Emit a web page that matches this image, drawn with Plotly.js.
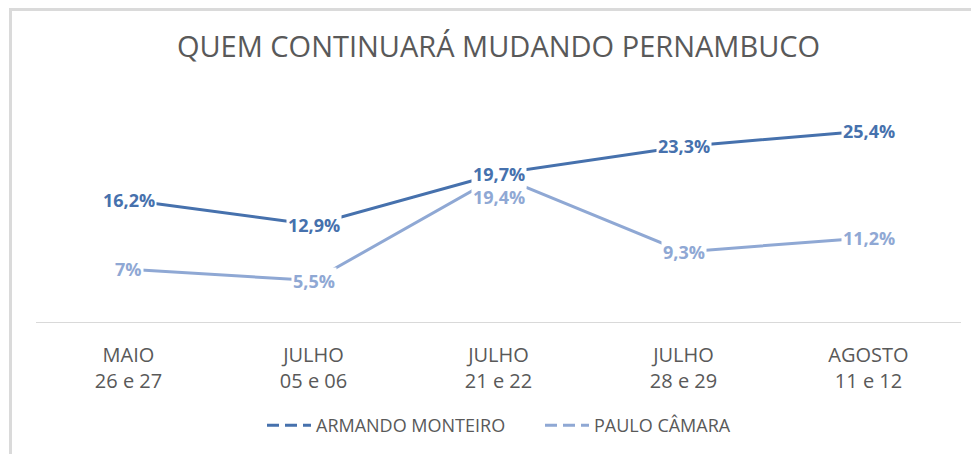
<!DOCTYPE html>
<html>
<head>
<meta charset="utf-8">
<script src="https://cdn.plot.ly/plotly-3.0.1.min.js"></script>
<style>
  html, body { margin: 0; padding: 0; background: #ffffff; }
  #wrap { position: relative; width: 971px; height: 454px; overflow: hidden; }
  #chart { position: absolute; left: 0; top: 0; width: 971px; height: 454px; }
  #frame { position: absolute; left: 9px; top: 8px; right: -10px; bottom: -10px;
           border-left: 3px solid #dadada; border-top: 3px solid #dadada; pointer-events: none; }
</style>
</head>
<body>
<div id="wrap">
  <div id="chart"></div>
  <div id="frame"></div>
</div>
<script>
// ---- data ----
const categories = ["MAIO<br>26 e 27", "JULHO<br>05 e 06", "JULHO<br>21 e 22", "JULHO<br>28 e 29", "AGOSTO<br>11 e 12"];
const seriesNames = ["ARMANDO MONTEIRO", "PAULO CÂMARA"];
const armandoValues = [16.2, 12.9, 19.7, 23.3, 25.4];
const pauloValues = [7, 5.5, 19.4, 9.3, 11.2];
const chartTitle = "QUEM CONTINUARÁ MUDANDO PERNAMBUCO";

// ---- styles ----
const colors = ["#4671ad", "#8fa8d4"];
const fontFam = "'Open Sans', 'Noto Sans', sans-serif";
const fmt = v => String(v).replace('.', ',') + '%';

const series = [armandoValues, pauloValues];
const traces = [];
series.forEach((vals, i) => {
  traces.push({
    x: categories, y: vals, type: 'scatter', mode: 'lines',
    line: { color: colors[i], width: 3 },
    showlegend: false, hoverinfo: 'skip'
  });
});
// legend entries
series.forEach((vals, i) => {
  traces.push({
    x: [null], y: [null], type: 'scatter', mode: 'lines', name: seriesNames[i],
    line: { color: colors[i], width: 3, dash: '12px,6px' },
    showlegend: true
  });
});

const annotations = [];
series.forEach((vals, i) => {
  vals.forEach((v, j) => {
    let yshift = 0;
    if (i === 1 && Math.abs(v - armandoValues[j]) < 1.5) yshift = -21;
    annotations.push({
      x: categories[j], y: v, xref: 'x', yref: 'y',
      text: fmt(v), showarrow: false,
      xanchor: 'center', yanchor: 'middle', yshift: yshift,
      bgcolor: '#ffffff', borderpad: 1,
      font: { family: fontFam, size: 18, color: colors[i], weight: 'bold' }
    });
  });
});

const layout = {
  width: 971, height: 454,
  margin: { l: 36, r: 10, t: 96, b: 129 },
  paper_bgcolor: '#ffffff', plot_bgcolor: '#ffffff',
  title: {
    text: chartTitle, x: 0.5, xref: 'paper', y: 1 - 47/454, yref: 'container',
    xanchor: 'center', yanchor: 'middle',
    font: { family: fontFam, size: 29, color: '#595959' }
  },
  xaxis: {
    type: 'category', range: [-0.5, 4.5], showgrid: false, zeroline: false,
    showline: true, linecolor: '#d9d9d9', linewidth: 1,
    ticks: '', ticklen: 0, ticklabelstandoff: 15,
    tickfont: { family: fontFam, size: 20, color: '#595959' },
    fixedrange: true
  },
  yaxis: {
    range: [0, 30], showgrid: false, zeroline: false, showline: false,
    showticklabels: false, ticks: '', fixedrange: true
  },
  showlegend: true,
  legend: {
    orientation: 'h', x: (262 - 36) / 925, xanchor: 'left', y: -105/229, yanchor: 'middle',
    font: { family: fontFam, size: 18, color: '#595959' },
    itemwidth: 44, entrywidth: 219, entrywidthmode: 'pixels',
    tracegroupgap: 0, bgcolor: 'rgba(0,0,0,0)'
  },
  annotations: annotations
};

Plotly.newPlot('chart', traces, layout, { displayModeBar: false, staticPlot: true });
</script>
</body>
</html>
